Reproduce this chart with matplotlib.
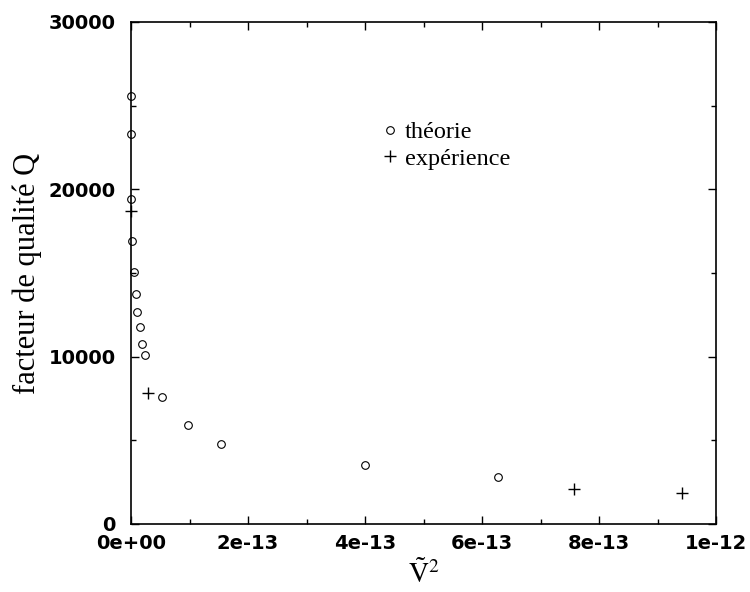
import matplotlib
matplotlib.use('Agg')
import matplotlib.pyplot as plt
from matplotlib.ticker import MultipleLocator, FuncFormatter

# Values
theorie_x = [3e-16, 3e-16, 3e-16, 2e-15, 4.8e-15, 7.7e-15, 1.06e-14, 1.45e-14,
             1.8e-14, 2.36e-14, 5.35e-14, 9.8e-14, 1.54e-13, 4.0e-13, 6.28e-13]
theorie_y = [25600, 23300, 19400, 16900, 15050, 13750, 12650, 11800,
             10750, 10100, 7600, 5900, 4780, 3500, 2800]

experience_x = [3e-16, 2.96e-14, 7.58e-13, 9.41e-13]
experience_y = [18700, 7820, 2070, 1830]

x_ticks = [0, 2e-13, 4e-13, 6e-13, 8e-13, 1e-12]
y_ticks = [0, 10000, 20000, 30000]

plt.rcParams['mathtext.fontset'] = 'stix'

fig = plt.figure(figsize=(7.5, 5.92), dpi=100)
ax = fig.add_axes([0.1747, 0.1149, 0.78, 0.848])

# theory points: small hollow circles, experiment: plus signs
ax.plot(theorie_x, theorie_y, linestyle='none', marker='o', markersize=5.5,
        markerfacecolor='none', markeredgecolor='black', markeredgewidth=0.8,
        label='théorie', clip_on=False)
ax.plot(experience_x, experience_y, linestyle='none', marker='+', markersize=8,
        color='black', markeredgewidth=1.0, label='expérience', clip_on=False)

ax.set_xlim(0, 1e-12)
ax.set_ylim(0, 30000)
ax.set_xticks(x_ticks)
ax.set_yticks(y_ticks)
ax.xaxis.set_minor_locator(MultipleLocator(1e-13))
ax.yaxis.set_minor_locator(MultipleLocator(5000))
ax.xaxis.set_major_formatter(FuncFormatter(lambda v, p: f'{v:.0e}'))
ax.yaxis.set_major_formatter(FuncFormatter(lambda v, p: f'{v:.0f}'))

ax.tick_params(which='both', direction='in', top=True, right=True, width=1.0)
ax.tick_params(which='major', length=6)
ax.tick_params(which='minor', length=3.5)
ax.tick_params(axis='y', pad=11)
ax.tick_params(axis='x', pad=7)
for lab in ax.get_xticklabels() + ax.get_yticklabels():
    lab.set_fontfamily('DejaVu Sans')
    lab.set_fontweight('bold')
    lab.set_fontsize(14)

for sp in ax.spines.values():
    sp.set_linewidth(1.2)

ax.set_ylabel('facteur de qualité Q', family='Liberation Serif', fontsize=22, labelpad=5)
ax.set_xlabel(r'$\tilde{\mathrm{V}}^2$', fontsize=20, labelpad=5)

ax.legend(loc='upper left', bbox_to_anchor=(0.431, 0.802), frameon=False,
          prop={'family': 'Liberation Serif', 'size': 17.5},
          handlelength=0.6, handletextpad=0.3, labelspacing=0.17,
          borderpad=0, borderaxespad=0)

fig.savefig('out.png', dpi=100)
